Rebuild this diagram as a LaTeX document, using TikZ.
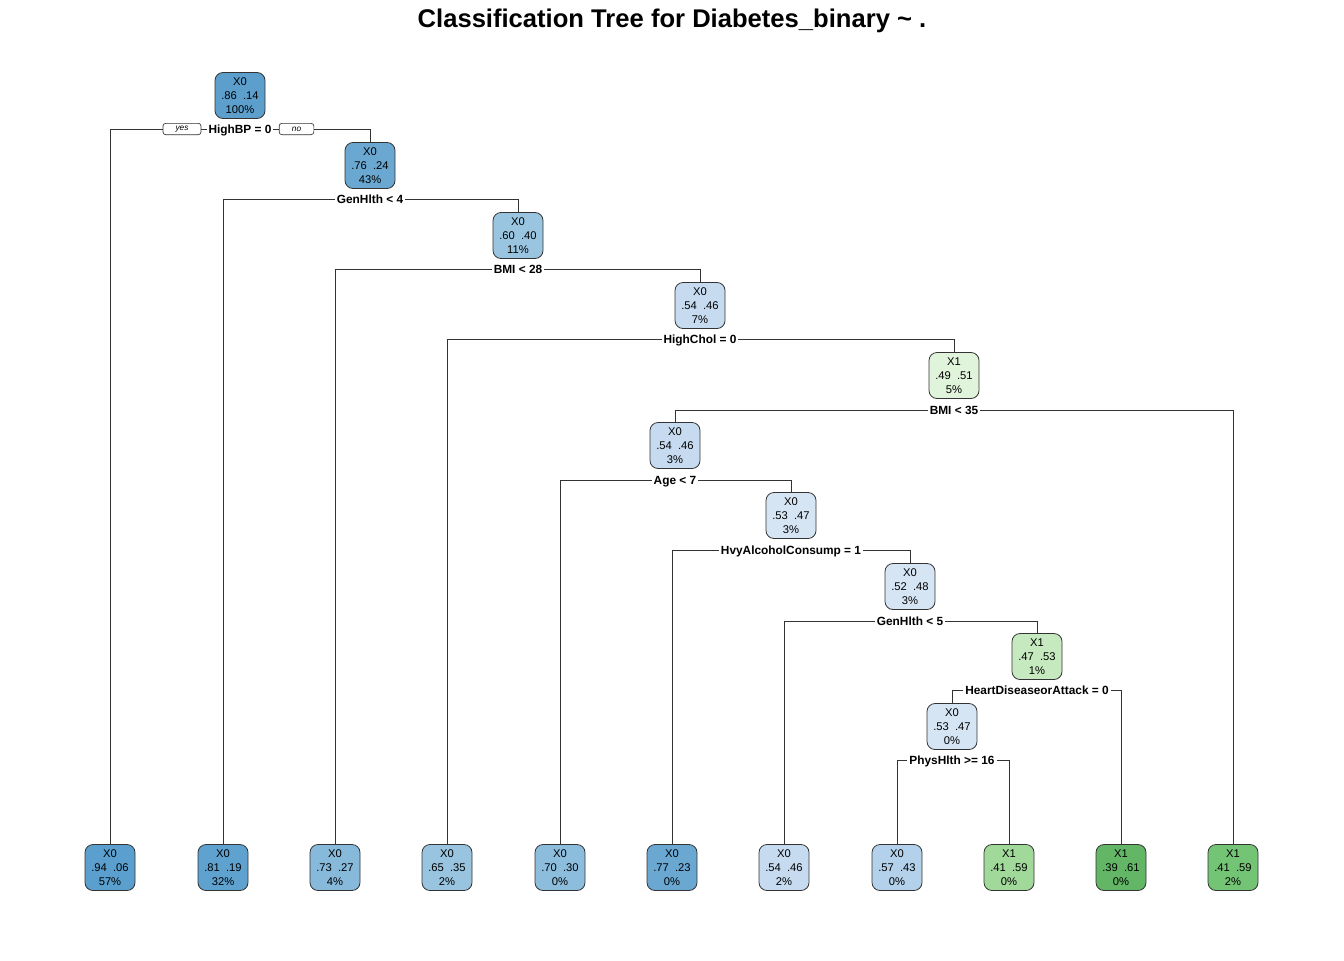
\documentclass[tikz,border=0pt]{standalone}
\usepackage{fontspec}
\setmainfont{Liberation Sans}
\usetikzlibrary{positioning}

\definecolor{b94}{HTML}{5A9FCE}
\definecolor{b86}{HTML}{5C9FCC}
\definecolor{b81}{HTML}{5FA2CF}
\definecolor{b77}{HTML}{6AA8D2}
\definecolor{b76}{HTML}{6AA8D2}
\definecolor{b73}{HTML}{86B9DA}
\definecolor{b70}{HTML}{8DBDDC}
\definecolor{b65}{HTML}{98C4E0}
\definecolor{b60}{HTML}{9AC5E0}
\definecolor{b57}{HTML}{B3D1EA}
\definecolor{b54}{HTML}{C6DBEF}
\definecolor{b53}{HTML}{D6E5F4}
\definecolor{g51}{HTML}{E0F3DB}
\definecolor{g53}{HTML}{C7E9C0}
\definecolor{g59a}{HTML}{A1D99B}
\definecolor{g59b}{HTML}{74C476}
\definecolor{g61}{HTML}{62B665}
\definecolor{edgegray}{HTML}{333333}

\begin{document}
\begin{tikzpicture}[
	x=0.75pt, y=-0.75pt,
	tree box/.style={draw=edgegray, line width=0.6pt, rounded corners=6pt,
		minimum width=37.5pt, minimum height=34.5pt, inner sep=0pt,
		align=center, font=\fontsize{8.4}{10.5}\selectfont},
	split label/.style={fill=white, inner sep=1.3pt, text height=8pt, text depth=1.6pt,
		font=\fontsize{8.9}{10}\selectfont\bfseries},
	dir label/.style={draw=edgegray, fill=white, line width=0.5pt, rounded corners=2pt,
		inner sep=0pt, minimum height=8.5pt, font=\fontsize{6.2}{7}\selectfont\itshape},
	tree edge/.style={edgegray, line width=0.6pt},
	]
	
	\useasboundingbox (0,0) rectangle (1344,960);
	
	% title
	\node[font=\fontsize{19.2}{23}\selectfont\bfseries] (title) at (672,21)
	{Classification Tree for Diabetes\_binary \textasciitilde\ .};
	
	% inner nodes
	\node[tree box, fill=b86] (n1) at (240,95.5) {X0\\.86\ \ .14\\100\%};
	\node[tree box, fill=b76] (n2) at (370,165.5) {X0\\.76\ \ .24\\43\%};
	\node[tree box, fill=b60] (n3) at (518,235.5) {X0\\.60\ \ .40\\11\%};
	\node[tree box, fill=b54] (n4) at (700,305.5) {X0\\.54\ \ .46\\7\%};
	\node[tree box, fill=g51] (n5) at (954,375.5) {X1\\.49\ \ .51\\5\%};
	\node[tree box, fill=b54] (n6) at (675,445.5) {X0\\.54\ \ .46\\3\%};
	\node[tree box, fill=b53] (n7) at (791,515.5) {X0\\.53\ \ .47\\3\%};
	\node[tree box, fill=b53] (n8) at (910,586.5) {X0\\.52\ \ .48\\3\%};
	\node[tree box, fill=g53] (n9) at (1037,656.5) {X1\\.47\ \ .53\\1\%};
	\node[tree box, fill=b53] (n10) at (952,726.5) {X0\\.53\ \ .47\\0\%};
	
	% split labels
	\node[split label] (s1) at (240,129) {HighBP = 0};
	\node[split label] (s2) at (370,199) {GenHlth < 4};
	\node[split label] (s3) at (518,269) {BMI < 28};
	\node[split label] (s4) at (700,339) {HighChol = 0};
	\node[split label] (s5) at (954,410) {BMI < 35};
	\node[split label] (s6) at (675,480) {Age < 7};
	\node[split label] (s7) at (791,550) {HvyAlcoholConsump = 1};
	\node[split label] (s8) at (910,621) {GenHlth < 5};
	\node[split label] (s9) at (1037,690) {HeartDiseaseorAttack = 0};
	\node[split label] (s10) at (952,760) {PhysHlth >= 16};
	
	% leaves
	\node[tree box, fill=b94] (l1) at (110,867.5) {X0\\.94\ \ .06\\57\%};
	\node[tree box, fill=b81] (l2) at (223,867.5) {X0\\.81\ \ .19\\32\%};
	\node[tree box, fill=b73] (l3) at (335,867.5) {X0\\.73\ \ .27\\4\%};
	\node[tree box, fill=b65] (l4) at (447,867.5) {X0\\.65\ \ .35\\2\%};
	\node[tree box, fill=b70] (l5) at (560,867.5) {X0\\.70\ \ .30\\0\%};
	\node[tree box, fill=b77] (l6) at (672,867.5) {X0\\.77\ \ .23\\0\%};
	\node[tree box, fill=b54] (l7) at (784,867.5) {X0\\.54\ \ .46\\2\%};
	\node[tree box, fill=b57] (l8) at (897,867.5) {X0\\.57\ \ .43\\0\%};
	\node[tree box, fill=g59a] (l9) at (1009,867.5) {X1\\.41\ \ .59\\0\%};
	\node[tree box, fill=g61] (l10) at (1121,867.5) {X1\\.39\ \ .61\\0\%};
	\node[tree box, fill=g59b] (l11) at (1233,867.5) {X1\\.41\ \ .59\\2\%};
	
	% branches
	\draw[tree edge] (s1) -| (l1);
	\draw[tree edge] (s1) -| (n2);
	\draw[tree edge] (s2) -| (l2);
	\draw[tree edge] (s2) -| (n3);
	\draw[tree edge] (s3) -| (l3);
	\draw[tree edge] (s3) -| (n4);
	\draw[tree edge] (s4) -| (l4);
	\draw[tree edge] (s4) -| (n5);
	\draw[tree edge] (s5) -| (n6);
	\draw[tree edge] (s5) -| (l11);
	\draw[tree edge] (s6) -| (l5);
	\draw[tree edge] (s6) -| (n7);
	\draw[tree edge] (s7) -| (l6);
	\draw[tree edge] (s7) -| (n8);
	\draw[tree edge] (s8) -| (l7);
	\draw[tree edge] (s8) -| (n9);
	\draw[tree edge] (s9) -| (n10);
	\draw[tree edge] (s9) -| (l10);
	\draw[tree edge] (s10) -| (l8);
	\draw[tree edge] (s10) -| (l9);
	
	% yes / no tags
	\node[dir label, minimum width=28.5pt] (yes) at (182,129) {yes};
	\node[dir label, minimum width=26pt] (no) at (296.5,129) {no};
	
\end{tikzpicture}
\end{document}
